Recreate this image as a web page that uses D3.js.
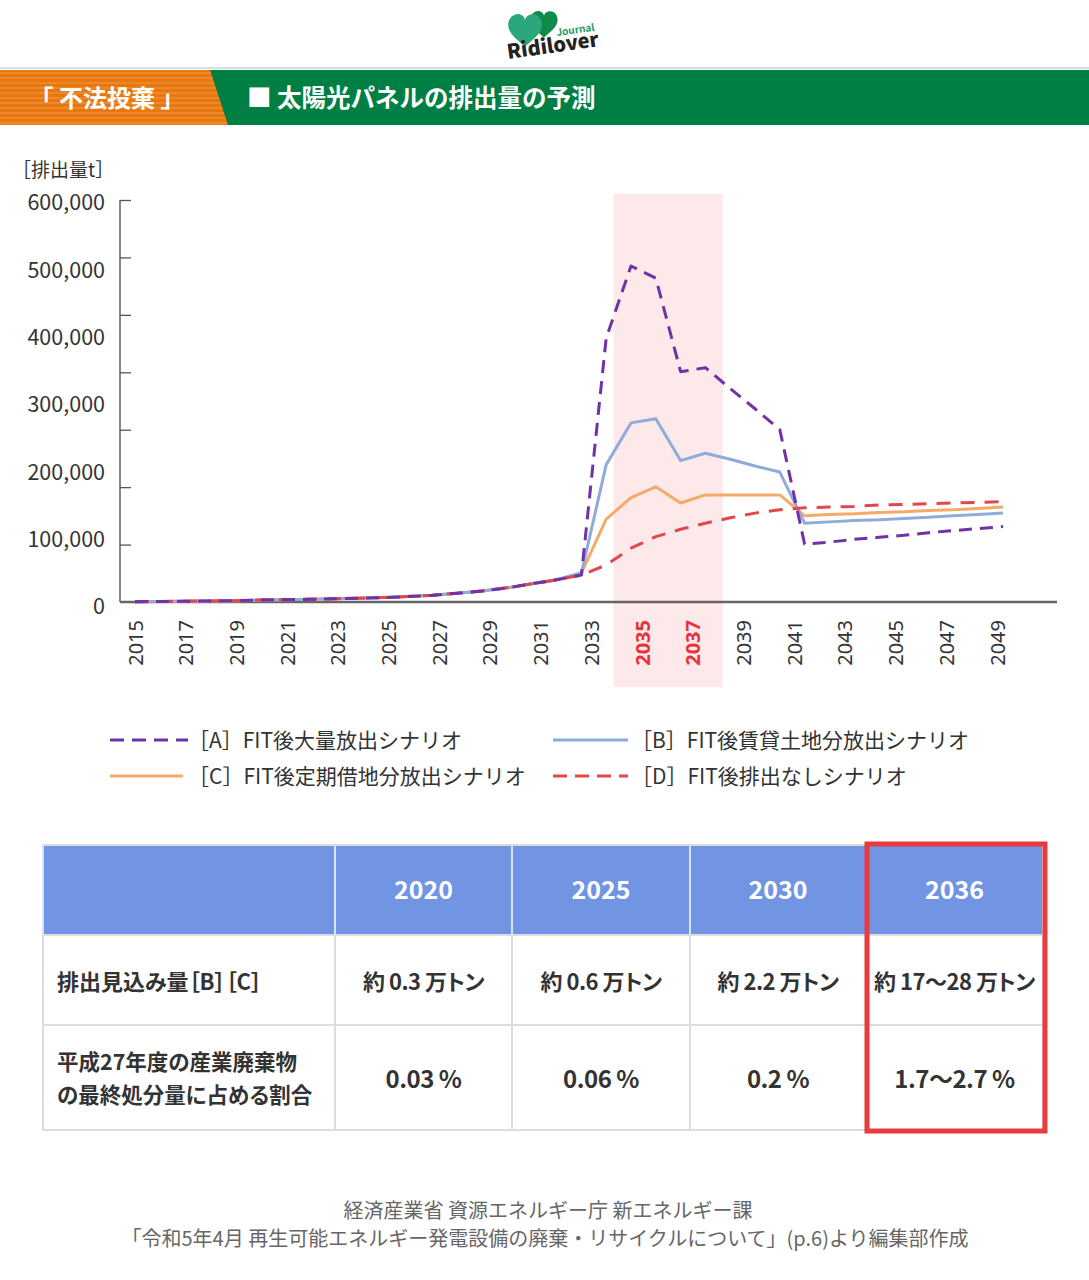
<!DOCTYPE html>
<html>
<head>
<meta charset="utf-8">
<script src="https://cdnjs.cloudflare.com/ajax/libs/d3/7.8.5/d3.min.js"></script>
<style>
  body { margin: 0; background: #fff; }
  svg { display: block; }
  text { font-family: "Noto Sans CJK JP", "Noto Sans", sans-serif; }
  .tbl text { font-feature-settings: "palt"; }
</style>
</head>
<body>
<div id="chart"></div>
<script>
// data (t per year)
var years = [2015, 2016, 2017, 2018, 2019, 2020, 2021, 2022, 2023, 2024, 2025, 2026,
             2027, 2028, 2029, 2030, 2031, 2032, 2033, 2034, 2035, 2036, 2037, 2038,
             2039, 2040, 2041, 2042, 2043, 2044, 2045, 2046, 2047, 2048, 2049, 2050];

var early = [500, 800, 1100, 1500, 2000, 2800, 3400, 4000, 4800, 5500, 6500, 8000,
             10000, 13000, 16500, 21000, 27000, 33000];

var seriesA = early.concat([40000, 392000, 499000, 481000, 342000, 348000, 317000, 287000,
             256000, 86000, 89000, 93000, 96000, 99000, 103000, 106000, 109000, 112000]);
var seriesB = early.concat([43000, 204000, 266000, 272000, 210000, 221000, 212000, 202000,
             193000, 117000, 119000, 121000, 122000, 124000, 126000, 128000, 130000, 132000]);
var seriesC = early.concat([43000, 123000, 155000, 171000, 147000, 159000, 159000, 159000,
             159000, 128000, 130000, 131000, 133000, 134000, 136000, 137000, 139000, 141000]);
var seriesD = early.concat([40000, 55000, 80000, 97000, 108000, 117000, 125000, 132000,
             137000, 140000, 141000, 142000, 144000, 145000, 146000, 147000, 148000, 149000]);

var yTicks = [0, 100000, 200000, 300000, 400000, 500000, 600000];
var xLabels = [2015, 2017, 2019, 2021, 2023, 2025, 2027, 2029, 2031, 2033, 2035, 2037,
               2039, 2041, 2043, 2045, 2047, 2049];
var redLabels = [2035, 2037];
var band = [2034.3, 2038.7];

var legendNames = ["［A］FIT後大量放出シナリオ", "［B］FIT後賃貸土地分放出シナリオ",
                   "［C］FIT後定期借地分放出シナリオ", "［D］FIT後排出なしシナリオ"];

var tableHead = ["", "2020", "2025", "2030", "2036"];
var tableRow1 = ["排出見込み量［B］［C］", "約 0.3 万トン", "約 0.6 万トン", "約 2.2 万トン", "約 17～28 万トン"];
var tableRow2 = [["平成27年度の産業廃棄物", "の最終処分量に占める割合"], "0.03 %", "0.06 %", "0.2 %", "1.7～2.7 %"];

var W = 1089, H = 1280;
var svg = d3.select("#chart").append("svg")
    .attr("width", W)
    .attr("height", H);

// ---- logo
var logo = svg.append("g").attr("transform", "translate(507,10)");
var heart = "M0,16 C-6,10 -16,4 -16,-5 C-16,-12 -10,-16 -5,-15 C-2,-14 0,-12 0,-9 C0,-12 3,-15 7,-15 C13,-15 16,-10 16,-5 C16,4 6,10 0,16 Z";
logo.append("path").attr("d", heart).attr("fill", "#0f8a4a")
    .attr("transform", "translate(37,14) scale(0.85)");
logo.append("path").attr("d", heart).attr("fill", "#2aa87c")
    .attr("transform", "translate(18,20) scale(1.05)");
logo.append("text").attr("x", 50).attr("y", 26).attr("font-size", 10).attr("font-weight", 700)
    .attr("fill", "#1a9a5a").attr("transform", "rotate(-8,50,26)").text("Journal");
logo.append("text").attr("x", 1).attr("y", 49).attr("font-size", 20).attr("font-weight", 800)
    .attr("fill", "#222").attr("transform", "rotate(-8,1,49)").text("Ridilover");

// ---- header banner
svg.append("rect").attr("x", 0).attr("y", 67).attr("width", W).attr("height", 2).attr("fill", "#cfe3df");
svg.append("rect").attr("x", 0).attr("y", 70).attr("width", W).attr("height", 55).attr("fill", "#007f45");
svg.append("path").attr("d", "M0,70 L210,70 L228,125 L0,125 Z").attr("fill", "#e8770d");
var stripes = svg.append("g");
for (var sy = 73; sy < 125; sy += 5) {
  stripes.append("line").attr("x1", 0).attr("x2", 210 + (sy - 70) * 18 / 55)
    .attr("y1", sy).attr("y2", sy)
    .attr("stroke", "#f3a567").attr("stroke-width", 1).attr("opacity", 0.8);
}
svg.append("text").attr("x", 107).attr("y", 107).attr("text-anchor", "middle")
    .attr("font-size", 24).attr("font-weight", 700).attr("fill", "#fff").text("「 不法投棄 」");
svg.append("text").attr("x", 247).attr("y", 107)
    .attr("font-size", 24.5).attr("font-weight", 700).attr("fill", "#fff").text("■ 太陽光パネルの排出量の予測");

// ---- chart
var x = d3.scaleLinear().domain([2015, 2050]).range([135, 1003]);
var xLab = d3.scaleLinear().domain([2015, 2049]).range([135, 997]);
var y = d3.scaleLinear().domain([0, 600000]).range([602, 198]);
var yTickMarks = d3.scaleLinear().domain([0, 7]).range([602, 200]);

svg.append("rect")
    .attr("x", x(band[0])).attr("y", 194)
    .attr("width", x(band[1]) - x(band[0])).attr("height", 493)
    .attr("fill", "#fde9e9");

svg.append("text").attr("x", 12).attr("y", 177).attr("font-size", 19).attr("fill", "#333").text("［排出量t］");

// y labels
var yAxis = svg.append("g").attr("transform", "translate(120,0)")
    .call(d3.axisLeft(y).tickValues(yTicks).tickSize(0).tickPadding(15).tickFormat(d3.format(",")));
yAxis.select(".domain").remove();
yAxis.selectAll("text").attr("y", 5).attr("font-size", 21.5).attr("fill", "#333")
    .style("font-family", '"Noto Sans CJK JP", sans-serif');

// y axis line and inward ticks
svg.append("g").attr("transform", "translate(120,0)")
    .call(d3.axisRight(yTickMarks).tickValues([1, 2, 3, 4, 5, 6, 7]).tickSize(11).tickFormat(""))
    .call(function (g) {
      g.select(".domain").attr("d", "M0,200V602").attr("stroke", "#444").attr("stroke-width", 1.3);
      g.selectAll(".tick line").attr("stroke", "#555").attr("stroke-width", 1.3);
    });

// x axis labels
var xAxis = svg.append("g").attr("transform", "translate(0,602)")
    .call(d3.axisBottom(xLab).tickValues(xLabels).tickSize(0).tickFormat(d3.format("d")));
xAxis.select(".domain").remove();
xAxis.selectAll("text")
    .attr("transform", "rotate(-90)")
    .attr("x", -18).attr("y", 0).attr("dy", "0.35em")
    .style("text-anchor", "end")
    .style("font-family", '"Noto Sans", sans-serif')
    .attr("font-size", 20)
    .attr("fill", function (d) { return redLabels.indexOf(d) >= 0 ? "#e8323c" : "#333"; })
    .attr("font-weight", function (d) { return redLabels.indexOf(d) >= 0 ? 700 : 400; });

svg.append("line").attr("x1", 120).attr("x2", 1057).attr("y1", 602).attr("y2", 602)
    .attr("stroke", "#666").attr("stroke-width", 2.5);

var series = [
  { name: legendNames[2], values: seriesC, color: "#f6aa68", dash: null },
  { name: legendNames[1], values: seriesB, color: "#8fabd9", dash: null },
  { name: legendNames[3], values: seriesD, color: "#e2474b", dash: "14,10" },
  { name: legendNames[0], values: seriesA, color: "#7032a6", dash: "13,8" }
];

var line = d3.line()
    .x(function (d, i) { return x(years[i]); })
    .y(function (d) { return y(d); });

svg.append("g").selectAll("path")
    .data(series)
    .enter()
    .append("path")
      .attr("d", function (d) { return line(d.values); })
      .attr("fill", "none")
      .attr("stroke", function (d) { return d.color; })
      .attr("stroke-width", 3)
      .attr("stroke-dasharray", function (d) { return d.dash; })
      .attr("stroke-linejoin", "round");

// ---- legend
var legendItems = [
  { name: legendNames[0], color: "#7032a6", dash: "14,8", x: 110, y: 740, len: 78 },
  { name: legendNames[1], color: "#8fabd9", dash: null, x: 553, y: 740, len: 75 },
  { name: legendNames[2], color: "#f6aa68", dash: null, x: 110, y: 776, len: 73 },
  { name: legendNames[3], color: "#e2474b", dash: "14,8", x: 553, y: 776, len: 75 }
];
var legend = svg.append("g").selectAll("g")
    .data(legendItems)
    .enter()
    .append("g")
      .attr("transform", function (d) { return "translate(" + d.x + "," + d.y + ")"; });
legend.append("line")
    .attr("x1", 0).attr("x2", function (d) { return d.len; })
    .attr("stroke", function (d) { return d.color; })
    .attr("stroke-width", 3)
    .attr("stroke-dasharray", function (d) { return d.dash; });
legend.append("text")
    .attr("x", 78).attr("y", 8)
    .attr("font-size", 21).attr("fill", "#333")
    .text(function (d) { return d.name; });

// ---- table
var colX = [43, 335, 512, 690, 866, 1043];
var rowY = [845, 935, 1025, 1130];
var tbl = svg.append("g").attr("class", "tbl");

tbl.append("rect").attr("x", colX[0]).attr("y", rowY[0])
    .attr("width", colX[5] - colX[0]).attr("height", rowY[1] - rowY[0]).attr("fill", "#7195e3");

// grid
for (var r = 1; r < rowY.length; r++) {
  tbl.append("line").attr("x1", colX[0]).attr("x2", colX[5]).attr("y1", rowY[r]).attr("y2", rowY[r])
      .attr("stroke", "#dcdcdc").attr("stroke-width", 2);
}
for (var c = 0; c < colX.length; c++) {
  tbl.append("line").attr("x1", colX[c]).attr("x2", colX[c]).attr("y1", rowY[0]).attr("y2", rowY[1])
      .attr("stroke", "#d9e2f6").attr("stroke-width", 2);
  tbl.append("line").attr("x1", colX[c]).attr("x2", colX[c]).attr("y1", rowY[1]).attr("y2", rowY[3])
      .attr("stroke", "#dcdcdc").attr("stroke-width", 2);
}
tbl.append("line").attr("x1", colX[0]).attr("x2", colX[5]).attr("y1", rowY[0]).attr("y2", rowY[0])
    .attr("stroke", "#dcdcdc").attr("stroke-width", 2);

function cellCx(i) { return (colX[i] + colX[i + 1]) / 2; }

tableHead.forEach(function (t, i) {
  if (!t) return;
  tbl.append("text").attr("x", cellCx(i)).attr("y", 899).attr("text-anchor", "middle")
      .attr("font-size", 25).attr("font-weight", 700).attr("fill", "#fff").text(t);
});
tableRow1.forEach(function (t, i) {
  tbl.append("text")
      .attr("x", i === 0 ? 57 : cellCx(i)).attr("y", 990)
      .attr("text-anchor", i === 0 ? "start" : "middle")
      .attr("font-size", 22).attr("font-weight", 700).attr("fill", "#333")
      .attr("letter-spacing", i === 0 ? 0 : -0.5)
      .text(t);
});
tableRow2.forEach(function (t, i) {
  if (i === 0) {
    t.forEach(function (s, k) {
      tbl.append("text").attr("x", 57).attr("y", 1070 + k * 33)
          .attr("font-size", 21.5).attr("font-weight", 700).attr("fill", "#333").text(s);
    });
  } else {
    tbl.append("text").attr("x", cellCx(i)).attr("y", 1088).attr("text-anchor", "middle")
        .attr("font-size", 24).attr("font-weight", 700).attr("fill", "#333")
        .attr("letter-spacing", -0.5).text(t);
  }
});

tbl.append("rect").attr("x", 867).attr("y", 844).attr("width", 178).attr("height", 287)
    .attr("fill", "none").attr("stroke", "#e83a3f").attr("stroke-width", 5);

// ---- source
svg.append("text").attr("x", 548).attr("y", 1218).attr("text-anchor", "middle")
    .attr("font-size", 20).attr("fill", "#666").text("経済産業省 資源エネルギー庁 新エネルギー課");
svg.append("text").attr("x", 545).attr("y", 1246).attr("text-anchor", "middle")
    .attr("font-size", 20).attr("fill", "#666")
    .text("「令和5年4月 再生可能エネルギー発電設備の廃棄・リサイクルについて」(p.6)より編集部作成");
</script>
</body>
</html>
